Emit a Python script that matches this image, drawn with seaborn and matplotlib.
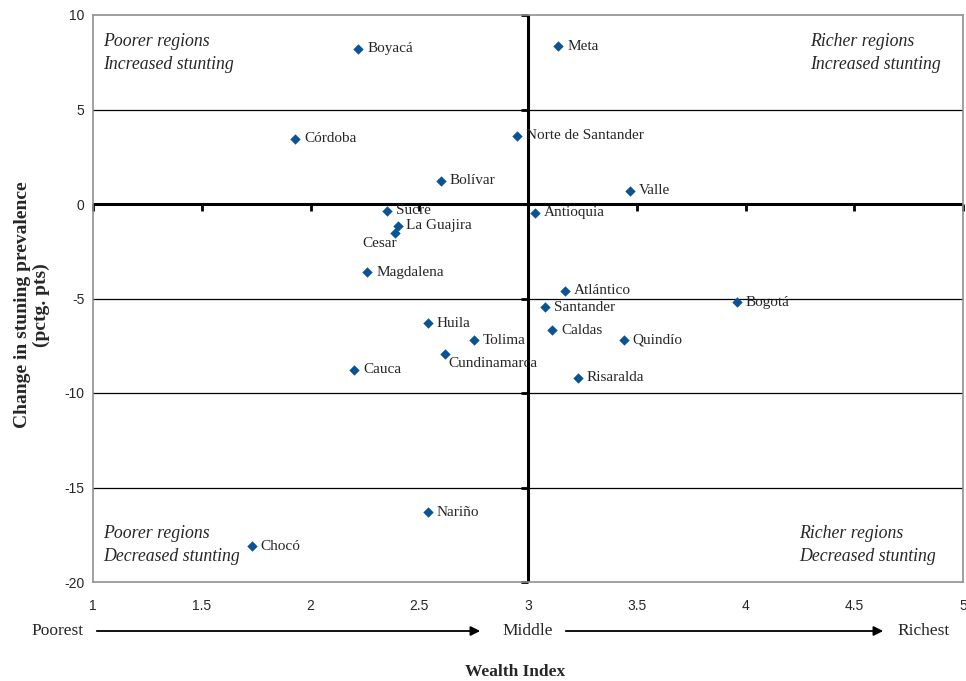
import numpy as np
import pandas as pd
import matplotlib
matplotlib.use("Agg")
import matplotlib.pyplot as plt
import seaborn as sns

# ── Data ──
regions = ["Boyacá", "Meta", "Córdoba", "Norte de Santander", "Bolívar", "Valle",
           "Sucre", "Antioquia", "La Guajira", "Cesar", "Magdalena", "Atlántico",
           "Bogotá", "Santander", "Huila", "Caldas", "Quindío", "Tolima",
           "Cundinamarca", "Cauca", "Risaralda", "Nariño", "Chocó"]
wealth = [2.22, 3.14, 1.93, 2.95, 2.60, 3.47,
          2.35, 3.03, 2.40, 2.39, 2.26, 3.17,
          3.96, 3.08, 2.54, 3.11, 3.44, 2.75,
          2.62, 2.20, 3.23, 2.54, 1.73]
change = [8.22, 8.34, 3.46, 3.60, 1.22, 0.69,
          -0.35, -0.46, -1.16, -1.55, -3.61, -4.59,
          -5.19, -5.45, -6.30, -6.67, -7.20, -7.21,
          -7.94, -8.77, -9.19, -16.31, -18.10]

xticks = [1, 1.5, 2, 2.5, 3, 3.5, 4, 4.5, 5]
yticks = [10, 5, 0, -5, -10, -15, -20]

df = pd.DataFrame({"region": regions, "wealth": wealth, "change": change})

SERIF = ["Liberation Serif", "DejaVu Serif"]
SANS = ["Liberation Sans", "DejaVu Sans"]
BLUE = "#0b5394"

sns.set_theme(style="white")
plt.rcParams["font.family"] = SANS

fig = plt.figure(figsize=(9.66, 6.81), dpi=100)
ax = fig.add_axes([93 / 966, 1 - 582 / 681, 870 / 966, 567 / 681])

# grid lines and crossing axes
for y in yticks:
    if y not in (10, -20, 0):
        ax.axhline(y, color="black", lw=0.9, zorder=1)
ax.axhline(0, color="black", lw=2.2, zorder=2)
ax.axvline(3, color="black", lw=2.2, zorder=2)
# small tick marks on the crossing axes
xt = [t for t in xticks if t != 3]
ax.plot(xt, [0] * len(xt), ls="none", marker=3,
        ms=5, mew=2, color="black", zorder=2, clip_on=False)
ax.plot([3] * len(yticks), yticks, ls="none", marker=0,
        ms=5, mew=2, color="black", zorder=2, clip_on=False)

sns.scatterplot(data=df, x="wealth", y="change", marker="D", s=28,
                color=BLUE, edgecolor=BLUE, linewidth=0, ax=ax, zorder=3)

# point labels (offsets in pixels)
offsets = {"Cesar": (2, -10, "right"), "Cundinamarca": (3, -9, "left")}
for name, x, y in zip(regions, wealth, change):
    dx, dy, ha = offsets.get(name, (9, 0, "left"))
    ax.annotate(name, (x, y), xytext=(dx, dy), textcoords="offset pixels",
                ha=ha, va="center", fontsize=11, family=SERIF, zorder=4)

ax.set_xlim(1, 5)
ax.set_ylim(-20, 10)
ax.set_xticks(xticks)
ax.set_xticklabels([f"{t:g}" for t in xticks])
ax.set_yticks(yticks)
ax.set_yticklabels([f"{t:g}" for t in yticks])
ax.tick_params(axis="both", labelsize=10, length=0, pad=6)
ax.tick_params(axis="x", pad=12)
for sp in ax.spines.values():
    sp.set_color("#909090")
    sp.set_linewidth(1.2)
ax.set_xlabel("")
ax.set_ylabel("")

# quadrant notes
qkw = dict(fontsize=12.8, style="italic", family=SERIF, linespacing=1.42,
           ha="left", va="center", multialignment="left", transform=ax.transAxes)
ax.text(0.012, 0.933, "Poorer regions\nIncreased stunting", **qkw)
ax.text(0.824, 0.933, "Richer regions\nIncreased stunting", **qkw)
ax.text(0.012, 0.065, "Poorer regions\nDecreased stunting", **qkw)
ax.text(0.8115, 0.065, "Richer regions\nDecreased stunting", **qkw)

# wealth scale under the axis
W, H = 966, 681
ya = 1 - 631 / H
fig.text(84 / W, ya, "Poorest", ha="right", va="center", fontsize=12.5, family=SERIF)
fig.text(528 / W, ya, "Middle", ha="center", va="center", fontsize=12.5, family=SERIF)
fig.text(897 / W, ya, "Richest", ha="left", va="center", fontsize=12.5, family=SERIF)
arrow = dict(arrowstyle="-|>", color="black", lw=1.3, mutation_scale=14)
fig.add_artist(matplotlib.patches.FancyArrowPatch((94 / W, ya), (483 / W, ya),
               transform=fig.transFigure, **arrow))
fig.add_artist(matplotlib.patches.FancyArrowPatch((563 / W, ya), (886 / W, ya),
               transform=fig.transFigure, **arrow))

fig.text(515 / W, 1 - 672 / H, "Wealth Index", ha="center", va="center",
         fontsize=12.5, weight="bold", family=SERIF)
fig.text(32 / W, 1 - 305 / H, "Change in stuning prevalence\n(pctg. pts)",
         ha="center", va="center", rotation=90, fontsize=14, weight="bold",
         family=SERIF, linespacing=1.1)

fig.savefig("out.png", dpi=100)
